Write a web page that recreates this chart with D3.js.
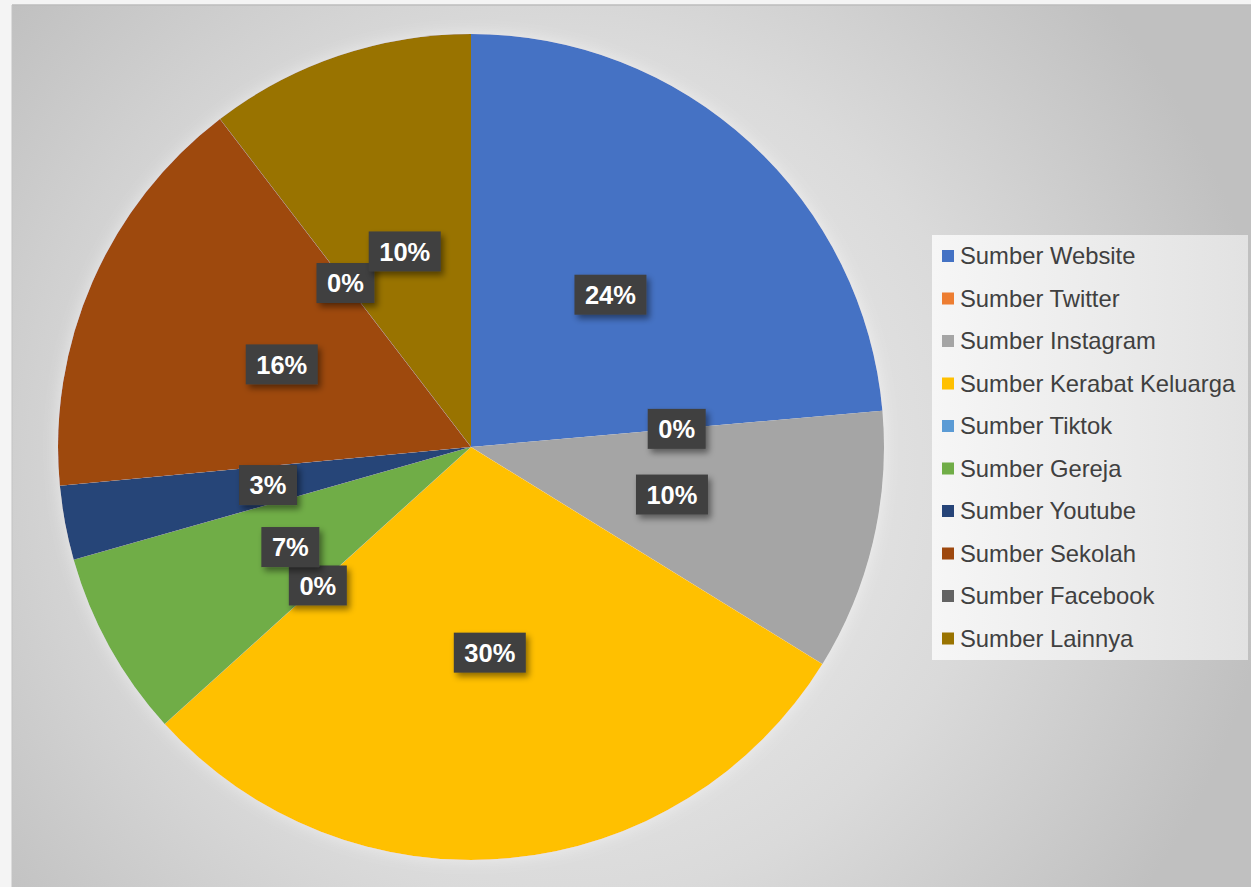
<!DOCTYPE html>
<meta charset="utf-8">
<style>
body { margin: 0; background: #f4f4f4; }
text { font-family: Arial, "Liberation Sans", sans-serif; }
</style>
<script src="https://cdn.jsdelivr.net/npm/d3@7"></script>
<body>
<script>

var width = 1251,
    height = 887;

// data (percent of respondents)
var categories = ["Sumber Website", "Sumber Twitter", "Sumber Instagram", "Sumber Kerabat Keluarga",
                  "Sumber Tiktok", "Sumber Gereja", "Sumber Youtube", "Sumber Sekolah",
                  "Sumber Facebook", "Sumber Lainnya"];
var values = [23.6, 0, 10.2, 29.5, 0, 7.3, 2.9, 16.1, 0, 10.4];
var colors = ["#4472c4", "#ed7d31", "#a5a5a5", "#ffc000", "#5b9bd5",
              "#70ad47", "#264478", "#9e480e", "#636363", "#997300"];

var data = categories.map(function (c, i) { return { name: c, value: values[i] }; });
var total = d3.sum(values);

var svg = d3.select("body")
              .append("svg")
              .attr("width", width)
              .attr("height", height)
              .style("display", "block");

var defs = svg.append("defs");

var bg = defs.append("radialGradient")
    .attr("id", "bg")
    .attr("gradientUnits", "userSpaceOnUse")
    .attr("cx", 560).attr("cy", 470).attr("r", 720);
bg.append("stop").attr("offset", "0").attr("stop-color", "#f2f2f2");
bg.append("stop").attr("offset", "0.6").attr("stop-color", "#dadada");
bg.append("stop").attr("offset", "1").attr("stop-color", "#c0c0c0");

var lg = defs.append("linearGradient")
    .attr("id", "legbg")
    .attr("x1", 0).attr("y1", 0).attr("x2", 1).attr("y2", 0);
lg.append("stop").attr("offset", "0").attr("stop-color", "#f6f6f6");
lg.append("stop").attr("offset", "1").attr("stop-color", "#e2e2e2");

var glow = defs.append("filter").attr("id", "glow")
    .attr("x", "-10%").attr("y", "-10%").attr("width", "120%").attr("height", "120%");
glow.append("feGaussianBlur").attr("in", "SourceAlpha").attr("stdDeviation", 8).attr("result", "b");
glow.append("feFlood").attr("flood-color", "#ffffff").attr("flood-opacity", 0.5);
glow.append("feComposite").attr("in2", "b").attr("operator", "in").attr("result", "g");
var gm = glow.append("feMerge");
gm.append("feMergeNode").attr("in", "g");
gm.append("feMergeNode").attr("in", "SourceGraphic");

var shadow = defs.append("filter").attr("id", "shadow")
    .attr("x", "-30%").attr("y", "-30%").attr("width", "160%").attr("height", "180%");
shadow.append("feDropShadow").attr("dx", 3).attr("dy", 4).attr("stdDeviation", 3)
    .attr("flood-color", "#000").attr("flood-opacity", 0.45);

// chart area
svg.append("rect")
    .attr("x", 12).attr("y", 5)
    .attr("width", width - 12).attr("height", height - 5)
    .attr("fill", "url(#bg)");
svg.append("line")
    .attr("x1", 12).attr("x2", width).attr("y1", 5).attr("y2", 5)
    .attr("stroke", "#bcbcbc").attr("stroke-width", 1.5);
svg.append("line")
    .attr("x1", 12).attr("x2", 12).attr("y1", 5).attr("y2", height)
    .attr("stroke", "#c4c4c4").attr("stroke-width", 1);

var r = 413;

var group = svg.append("g")
    .attr("transform", "translate(471,447)");

var pie = d3.pie()
    .sort(null)
    .value(function (d) { return d.value; });

var arc = d3.arc()
    .innerRadius(0)
    .outerRadius(r);

var arcs = pie(data);

group.append("g")
    .attr("filter", "url(#glow)")
  .selectAll("path")
  .data(arcs)
  .enter()
    .append("path")
    .attr("d", arc)
    .style("fill", function (d, i) { return colors[i]; });

var labels = group.selectAll(".lbl")
    .data(arcs)
    .enter()
      .append("g")
      .attr("class", "lbl")
      .attr("transform", function (d) { return "translate(" + arc.centroid(d) + ")"; });

labels.append("rect")
    .attr("x", function (d) { return d.data.value / total >= 0.095 ? -36 : -29; })
    .attr("y", -20)
    .attr("width", function (d) { return d.data.value / total >= 0.095 ? 72 : 58; })
    .attr("height", 40)
    .attr("fill", "#404040")
    .attr("filter", "url(#shadow)");

labels.append("text")
    .attr("text-anchor", "middle")
    .attr("dy", "0.36em")
    .attr("fill", "#ffffff")
    .attr("font-size", 25.5)
    .attr("font-weight", "bold")
    .text(function (d) { return Math.round(d.data.value / total * 100) + "%"; });

// legend
var legend = svg.append("g");
legend.append("rect")
    .attr("x", 932).attr("y", 235)
    .attr("width", 316).attr("height", 425)
    .attr("fill", "url(#legbg)");

var items = legend.selectAll(".item")
    .data(categories)
    .enter()
      .append("g")
      .attr("class", "item")
      .attr("transform", function (d, i) { return "translate(942," + (256 + i * 42.5) + ")"; });

items.append("rect")
    .attr("x", 0).attr("y", -6)
    .attr("width", 12).attr("height", 12)
    .attr("fill", function (d, i) { return colors[i]; });

items.append("text")
    .attr("x", 18)
    .attr("dy", "0.35em")
    .attr("fill", "#404040")
    .attr("font-size", 23.8)
    .text(function (d) { return d; });

</script>
</body>
